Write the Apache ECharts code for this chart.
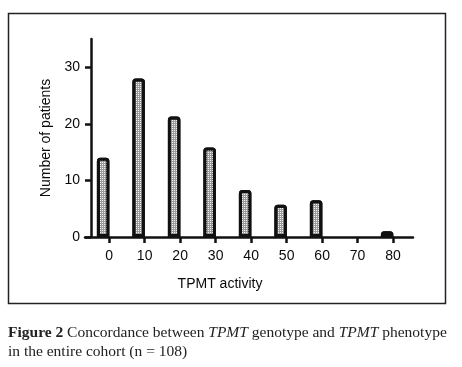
<!DOCTYPE html>
<html>
<head>
<meta charset="utf-8">
<script src="https://cdn.jsdelivr.net/npm/echarts@6/dist/echarts.min.js"></script>
<style>
html,body{margin:0;padding:0;background:#fff;}
#c{width:462px;height:367px;}
</style>
</head>
<body>
<div id="c"></div>
<script>
// Data
var activity = [0, 10, 20, 30, 40, 50, 60, 70, 80];
var patients = [14, 28, 21.3, 15.8, 8.3, 5.7, 6.5, 0, 1];
var xTickLabels = [0, 10, 20, 30, 40, 50, 60, 70, 80];
var yTickLabels = [0, 10, 20, 30];

var chart = echarts.init(document.getElementById('c'), null, {renderer: 'canvas'});
var axisColor = '#111';
var textColor = '#0a0a0a';
var sans = 'Liberation Sans, Arial, sans-serif';

chart.setOption({
  animation: false,
  backgroundColor: '#fff',
  title: {
    left: 8,
    top: 323,
    padding: 0,
    text: '{b|Figure 2} Concordance between {i|TPMT} genotype and {i|TPMT} phenotype\nin the entire cohort (n = 108)',
    textStyle: {
      fontFamily: 'Liberation Serif, Times New Roman, serif',
      fontSize: 15.5,
      fontWeight: 'normal',
      color: '#222',
      lineHeight: 19,
      rich: {
        b: {fontFamily: 'Liberation Serif, serif', fontSize: 15.5, fontWeight: 'bold', color: '#222', lineHeight: 19},
        i: {fontFamily: 'Liberation Serif, serif', fontSize: 15.5, fontStyle: 'italic', color: '#222', lineHeight: 19}
      }
    }
  },
  graphic: [{
    type: 'rect',
    shape: {x: 8.5, y: 13.5, width: 437, height: 290},
    style: {fill: 'none', stroke: '#222', lineWidth: 1.5},
    silent: true
  }],
  grid: {left: 85, right: 49, top: 39, bottom: 130, containLabel: false},
  xAxis: {
    type: 'value',
    min: -6.8,
    max: 85.6,
    splitLine: {show: false},
    axisLine: {onZero: false, lineStyle: {color: axisColor, width: 2.5}},
    axisTick: {customValues: xTickLabels, length: 6, lineStyle: {color: axisColor, width: 2.5}},
    axisLabel: {customValues: xTickLabels, margin: 12, fontSize: 14, fontFamily: sans, color: textColor},
    name: 'TPMT activity',
    nameLocation: 'middle',
    nameGap: 40,
    nameTextStyle: {fontSize: 14, fontFamily: sans, color: textColor, padding: [0, 58, 0, 0]}
  },
  yAxis: {
    type: 'value',
    min: 0,
    max: 35,
    offset: -6,
    splitLine: {show: false},
    axisLine: {show: true, onZero: false, lineStyle: {color: axisColor, width: 2.5}},
    axisTick: {show: true, customValues: yTickLabels, length: 6, lineStyle: {color: axisColor, width: 2.5}},
    axisLabel: {customValues: yTickLabels, margin: 11, fontSize: 14, fontFamily: sans, color: textColor},
    name: 'Number of patients',
    nameLocation: 'middle',
    nameGap: 33,
    nameTextStyle: {fontSize: 14, fontFamily: sans, color: textColor}
  },
  series: [{
    type: 'bar',
    data: activity.map(function (a, i) { return [a, patients[i] === 0 ? '-' : patients[i]]; }),
    barWidth: 12.5,
    barGap: '-4%',
    itemStyle: {
      color: '#9a9a9a',
      borderColor: '#111',
      borderWidth: 3,
      borderRadius: [2, 2, 0, 0],
      decal: {symbol: 'rect', symbolSize: 1, color: 'rgba(255,255,255,0.9)', dashArrayX: [1, 1], dashArrayY: [1, 1], rotation: 0}
    }
  }, {
    type: 'bar',
    data: activity.map(function (a) { return [a, '-']; }),
    barWidth: 12.5,
    barGap: '-4%',
    itemStyle: {color: 'transparent'}
  }]
});
</script>
</body>
</html>
